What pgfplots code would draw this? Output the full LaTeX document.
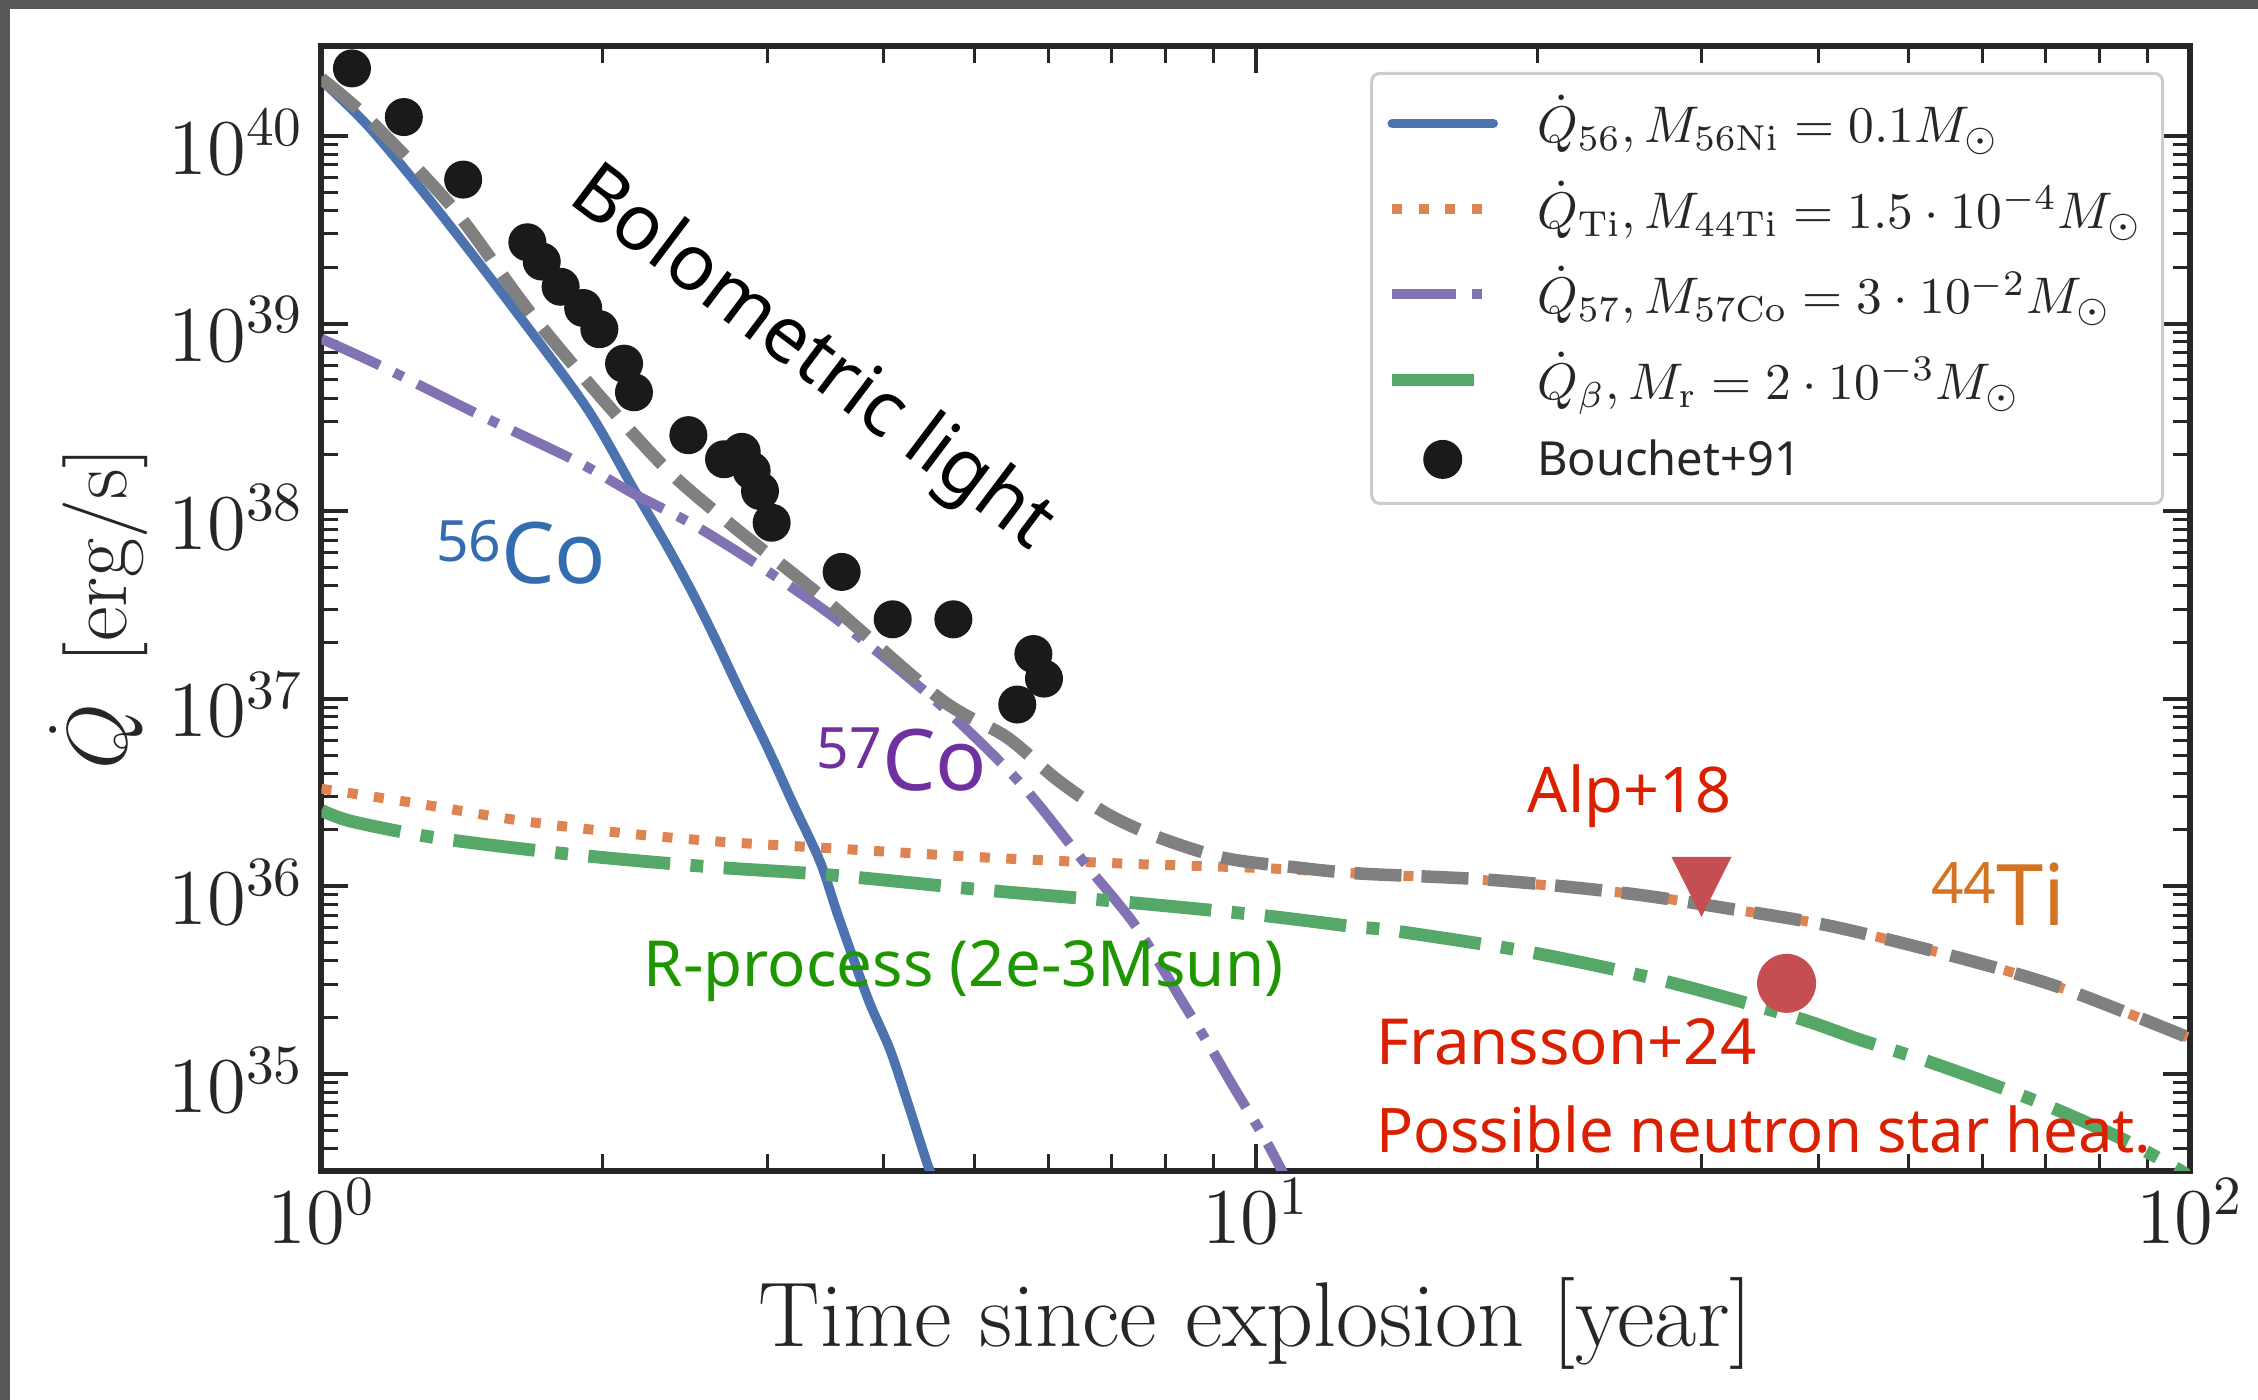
\RequirePackage{fix-cm}
\documentclass[border=0pt]{standalone}
\usepackage[no-math]{fontspec}
\usepackage{pgfplots}
\pgfplotsset{compat=1.18}
\newfontfamily\notosans{Noto Sans}

% line colours (seaborn "deep")
\definecolor{c56}{HTML}{4C72B0}
\definecolor{cti}{HTML}{DD8452}
\definecolor{c57}{HTML}{8172B3}
\definecolor{cbeta}{HTML}{55A868}
\definecolor{ctot}{HTML}{808080}
\definecolor{cobs}{HTML}{C44E52}
\definecolor{cdot}{HTML}{1A1A1A}
\definecolor{frame}{HTML}{262626}
% annotation colours
\definecolor{t56}{RGB}{52,108,176}
\definecolor{t57}{RGB}{112,48,160}
\definecolor{tti}{RGB}{211,116,37}
\definecolor{tr}{RGB}{30,150,0}
\definecolor{tred}{RGB}{218,32,0}

% downward triangle, centred on its bounding box
\pgfdeclareplotmark{tridown}{%
  \pgfpathmoveto{\pgfqpoint{0pt}{-\pgfplotmarksize}}%
  \pgfpathlineto{\pgfqpoint{-\pgfplotmarksize}{\pgfplotmarksize}}%
  \pgfpathlineto{\pgfqpoint{\pgfplotmarksize}{\pgfplotmarksize}}%
  \pgfpathclose\pgfusepathqfill}

\pgfplotsset{
  legline/.style={legend image code/.code={%
      \path[draw=none,fill=none] (0pt,-1pt) rectangle (20.2pt,1pt);
      \draw[##1,overlay] (0pt,0pt) -- (20.2pt,0pt);}},
  legdot/.style={legend image code/.code={%
      \path[draw=none,fill=none] (0pt,-1pt) rectangle (20.2pt,1pt);
      \draw[##1,overlay] plot coordinates {(10.1pt,0pt)};}},
}

\begin{document}
\begin{tikzpicture}
\useasboundingbox (-64.3pt,-45.8pt) rectangle (387.3pt,234.2pt);
\fill[black!66] (-64.3pt,232.4pt) rectangle (387.3pt,234.2pt);
\fill[black!66] (-64.3pt,-45.8pt) rectangle (-62.3pt,234.2pt);
\begin{axis}[
  at={(0pt,0pt)}, anchor=south west,
  scale only axis, width=373.7pt, height=224.9pt,
  xmode=log, ymode=log,
  xmin=1, xmax=100, ymin=3.041e34, ymax=3.0e40,
  axis line style={line width=1.2pt, draw=frame},
  tick align=inside,
  major tick length=5.4pt, minor tick length=3.4pt,
  every major tick/.append style={line width=0.8pt, draw=frame},
  every minor tick/.append style={line width=0.6pt, draw=frame},
  tick label style={font=\fontsize{15.8}{18}\selectfont, text=frame},
  xticklabel style={inner sep=0pt, yshift=-1.4pt},
  yticklabel style={inner sep=0pt, xshift=-3.3pt, yshift=-1.2pt},
  xlabel={Time since explosion [year]},
  ylabel={$\dot{Q}$\hspace{0.48em}[erg/s]},
  xlabel style={font=\fontsize{18.4}{21}\selectfont, text=frame,
    at={(axis description cs:0.5,-0.1565)}, anchor=base, inner sep=0pt},
  ylabel style={font=\fontsize{17}{20}\selectfont, text=frame,
    at={(axis description cs:-0.1041,0.5)}, anchor=base, inner sep=0pt},
  legend cell align=left,
  legend style={
    at={(axis description cs:1,1)}, anchor=north east,
    xshift=-5.2pt, yshift=-5.1pt,
    draw=black!20, line width=0.6pt, rounded corners=1.6pt, fill=white,
    inner xsep=4.1pt, inner ysep=4pt,
    row sep=5.1pt, column sep=8.8pt,
    cells={anchor=west},
    nodes={inner sep=0pt, text height=9.9pt, text depth=2.1pt, text=frame},
    font=\fontsize{10.3}{12}\selectfont,
  },
]

% 56Co decay heating
\addplot[c56, line width=1.9pt, line cap=round, line join=round, smooth, tension=0.5, legline] coordinates {
  (1.000,1.98e40) (1.127,1.10e40) (1.328,4.10e39) (1.604,1.21e39)
  (1.922,3.56e38) (2.157,1.32e38) (2.342,6.55e37) (2.500,3.60e37)
  (2.650,2.00e37) (2.783,1.19e37) (3.000,5.52e36) (3.200,2.73e36)
  (3.418,1.35e36) (3.575,6.90e35) (3.848,2.50e35) (4.059,1.35e35)
  (4.250,6.80e34) (4.462,3.20e34) (4.550,2.60e34)
};
\addlegendentry{$\dot{Q}_{56}, M_{\mathrm{56Ni}} = 0.1M_{\odot}$}

% 44Ti decay heating
\addplot[cti, line width=2pt, dash pattern=on 2pt off 3.3pt, smooth, tension=0.5, legline] coordinates {
  (1.000,3.31e36) (1.274,2.75e36) (1.631,2.24e36) (2.087,1.93e36)
  (2.670,1.73e36) (3.474,1.60e36) (5.194,1.42e36) (7.277,1.32e36)
  (10.19,1.25e36) (12.93,1.17e36) (17.96,1.07e36) (24.96,9.18e35)
  (31.92,7.64e35) (41.52,6.10e35) (57.68,4.06e35) (73.79,2.81e35)
  (100.0,1.55e35)
};
\addlegendentry{$\dot{Q}_{\mathrm{Ti}}, M_{\mathrm{44Ti}} = 1.5\cdot 10^{-4}M_{\odot}$}

% 57Co decay heating
\addplot[c57, line width=2pt, dash pattern=on 12.8pt off 3.2pt on 2pt off 3.2pt, smooth, tension=0.5, legline] coordinates {
  (1.000,8.28e38) (1.155,5.97e38) (1.466,3.31e38) (1.876,1.84e38)
  (2.157,1.24e38) (2.500,8.47e37) (2.996,4.82e37) (3.589,2.57e37)
  (4.592,9.31e36) (5.594,3.56e36) (6.594,1.29e36) (7.460,6.03e35)
  (8.366,2.38e35) (8.933,1.40e35) (9.462,8.57e34) (10.19,4.65e34)
  (10.62,3.18e34) (10.80,2.70e34)
};
\addlegendentry{$\dot{Q}_{57}, M_{\mathrm{57Co}} = 3\cdot 10^{-2}M_{\odot}$}

% r-process beta-decay heating
\addplot[cbeta, line width=2.56pt, dash pattern=on 16.4pt off 4.1pt on 2.56pt off 4.1pt, smooth, tension=0.5, legline] coordinates {
  (1.000,2.54e36) (1.081,2.21e36) (1.339,1.80e36) (1.876,1.47e36)
  (2.605,1.27e36) (3.503,1.15e36) (5.152,9.53e35) (7.218,8.26e35)
  (10.10,7.02e35) (12.72,6.10e35) (14.04,5.80e35) (19.50,4.49e35)
  (27.08,3.17e35) (37.62,2.02e35) (44.36,1.52e35) (53.12,1.14e35)
  (67.97,7.26e34) (83.47,4.65e34) (96.00,3.21e34) (100.0,2.80e34)
};
\addlegendentry{$\dot{Q}_{\beta}, M_{\mathrm{r}} = 2\cdot 10^{-3}M_{\odot}$}

% total radioactive heating
\addplot[ctot, line width=2.5pt, dash pattern=on 9.4pt off 4pt, smooth, tension=0.5, forget plot] coordinates {
  (1.000,2.02e40) (1.127,1.21e40) (1.384,4.10e39) (1.658,1.21e39)
  (1.970,4.30e38) (2.342,1.67e38) (2.759,8.28e37) (3.418,3.55e37)
  (4.592,1.00e37) (5.413,6.24e36) (6.122,3.72e36) (6.926,2.44e36)
  (7.834,1.84e36) (9.232,1.42e36) (11.06,1.26e36) (12.93,1.17e36)
  (17.96,1.08e36) (24.96,9.18e35) (31.92,7.64e35) (41.52,6.10e35)
  (57.68,4.06e35) (73.79,2.81e35) (100.0,1.55e35)
};

% bolometric light curve
\addplot[only marks, mark=*, mark size=3.6pt, color=cdot, mark options={draw=none, fill=cdot}, legdot] coordinates {
  (1.078,2.29e40) (1.225,1.26e40) (1.418,5.85e39) (1.661,2.71e39)
  (1.721,2.14e39) (1.803,1.57e39) (1.906,1.21e39) (1.984,9.33e38)
  (2.108,6.11e38) (2.160,4.30e38) (2.470,2.54e38) (2.697,1.89e38)
  (2.817,2.07e38) (2.887,1.64e38) (2.947,1.28e38) (3.033,8.67e37)
  (3.604,4.74e37) (4.087,2.65e37) (4.746,2.65e37) (5.781,1.73e37)
  (5.934,1.28e37) (5.556,9.31e36)
};
\addlegendentry[text height=8.1pt, text depth=1.5pt]{\notosans\fontsize{9.4}{11}\selectfont Bouchet+91}

% late-time constraints
\addplot[only marks, mark=tridown, mark size=6pt, color=cobs, forget plot] coordinates {(30.0,9.93e35)};
\addplot[only marks, mark=*, mark size=5.7pt, color=cobs, mark options={draw=none, fill=cobs}, forget plot] coordinates {(37.0,3.04e35)};

% annotations
\node[anchor=base, rotate=-37, inner sep=0pt, font=\notosans\fontsize{15.5}{18}\selectfont] at (axis cs:3.242,5.24e38) {Bolometric light};
\node[anchor=base west, inner sep=0pt, text=t56, font=\notosans\fontsize{17}{19}\selectfont] at (axis cs:1.323,4.09e37) {\raisebox{4.4pt}{\fontsize{11.4}{12}\selectfont 56}Co};
\node[anchor=base west, inner sep=0pt, text=t57, font=\notosans\fontsize{17}{19}\selectfont] at (axis cs:3.382,3.225e36) {\raisebox{4.4pt}{\fontsize{11.4}{12}\selectfont 57}Co};
\node[anchor=base west, inner sep=0pt, text=tti, font=\notosans\fontsize{17}{19}\selectfont] at (axis cs:52.69,6.22e35) {\raisebox{4.4pt}{\fontsize{11.4}{12}\selectfont 44}Ti};
\node[anchor=base west, inner sep=0pt, text=tred, font=\notosans\fontsize{12.6}{14}\selectfont] at (axis cs:19.51,2.46e36) {Alp+18};
\node[anchor=base west, inner sep=0pt, text=tred, font=\notosans\fontsize{12.7}{14}\selectfont] at (axis cs:13.42,1.117e35) {Fransson+24};
\node[anchor=base west, inner sep=0pt, text=tred, font=\notosans\fontsize{12.3}{14}\selectfont] at (axis cs:13.42,3.79e34) {Possible neutron star heat.};
\node[anchor=base west, inner sep=0pt, text=tr, font=\notosans\fontsize{12.7}{14}\selectfont] at (axis cs:2.208,2.94e35) {R-process (2e-3Msun)};

\end{axis}
\end{tikzpicture}
\end{document}
